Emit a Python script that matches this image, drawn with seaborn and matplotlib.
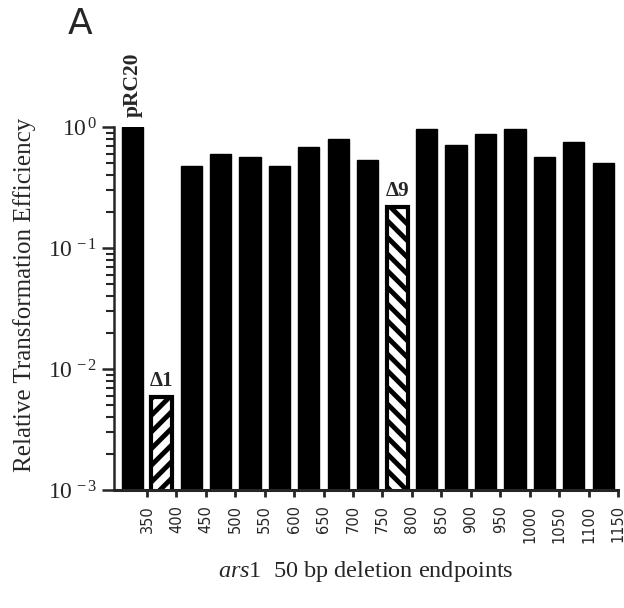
import numpy as np
import pandas as pd
import matplotlib
matplotlib.use("Agg")
import matplotlib.pyplot as plt
import seaborn as sns

# bars: wild-type plasmid then 16 successive 50 bp deletions
constructs = ["pRC20", "Δ1", "Δ2", "Δ3", "Δ4", "Δ5", "Δ6", "Δ7", "Δ8",
              "Δ9", "Δ10", "Δ11", "Δ12", "Δ13", "Δ14", "Δ15", "Δ16"]
efficiency = [1.0, 0.0059, 0.48, 0.60, 0.56, 0.48, 0.68, 0.80, 0.53,
              0.217, 0.96, 0.71, 0.875, 0.96, 0.56, 0.755, 0.50]
endpoints = [350, 400, 450, 500, 550, 600, 650, 700, 750, 800,
             850, 900, 950, 1000, 1050, 1100, 1150]
hatches = {"Δ1": "//", "Δ9": "\\\\"}
labelled = ["pRC20", "Δ1", "Δ9"]

sns.set_style("ticks")
plt.rcParams['font.family'] = ['Liberation Serif', 'DejaVu Serif']
plt.rcParams['mathtext.fontset'] = 'custom'
plt.rcParams['mathtext.rm'] = 'Liberation Serif'
plt.rcParams['mathtext.it'] = 'Liberation Serif:italic'
plt.rcParams['mathtext.bf'] = 'Liberation Serif:bold'
plt.rcParams['hatch.linewidth'] = 3.5
plt.rcParams['hatch.color'] = 'black'

df = pd.DataFrame({"construct": constructs, "efficiency": efficiency})
colors = {c: ("white" if c in hatches else "black") for c in constructs}

fig = plt.figure(figsize=(6.24, 6.08), dpi=100)
ax = fig.add_axes([114 / 624, 118 / 608, 504 / 624, 363 / 608])
ax.set_yscale("log")
sns.barplot(data=df, x="construct", y="efficiency", hue="construct",
            palette=colors, order=constructs, hue_order=constructs,
            width=0.72, edgecolor="black", linewidth=1.0, legend=False, ax=ax)

for patch, name, val in zip(ax.patches, constructs, efficiency):
    if name in hatches:
        patch.set_hatch(hatches[name])
        patch.set_linewidth(3.0)
    if name in labelled:
        xc = patch.get_x() + patch.get_width() / 2
        if name == "pRC20":
            ax.text(xc, val * 1.22, name, rotation=90, ha="center", va="bottom",
                    fontsize=15.5, fontweight="bold")
        else:
            ax.text(xc, val * 1.12, name, ha="center", va="bottom",
                    fontsize=15, fontweight="bold")

ax.set_ylim(1e-3, 1)
ax.set_xlim(-0.62, 16.45)
ax.set_yticks([1e-3, 1e-2, 1e-1, 1])
ax.set_yticklabels([r"$10^{\,-3}$", r"$10^{\,-2}$", r"$10^{\,-1}$", r"$10^{\,0}$"],
                   fontsize=17)
ax.set_xticks(np.arange(len(endpoints)) + 0.5)
ax.set_xticklabels([str(e) for e in endpoints], rotation=90, fontsize=10.5,
                   family="DejaVu Sans")

ax.tick_params(axis="y", which="major", length=9, width=1.8, pad=3)
ax.tick_params(axis="y", which="minor", length=6, width=1.5)
ax.tick_params(axis="x", length=5, width=2, pad=6)
sns.despine(ax=ax)
ax.spines["left"].set_linewidth(1.8)
ax.spines["bottom"].set_linewidth(2.2)

ax.set_ylabel("Relative Transformation Efficiency", fontsize=18)
ax.yaxis.set_label_coords(-0.155, 0.537)
ax.set_xlabel(r"$\mathit{ars1}$  50 bp deletion endpoints", fontsize=17.5, labelpad=12)

fig.text(80 / 624, 1 - 24 / 608, "A", ha="center", va="center", fontsize=26,
         family="DejaVu Sans")

fig.savefig("out.png", dpi=100)
